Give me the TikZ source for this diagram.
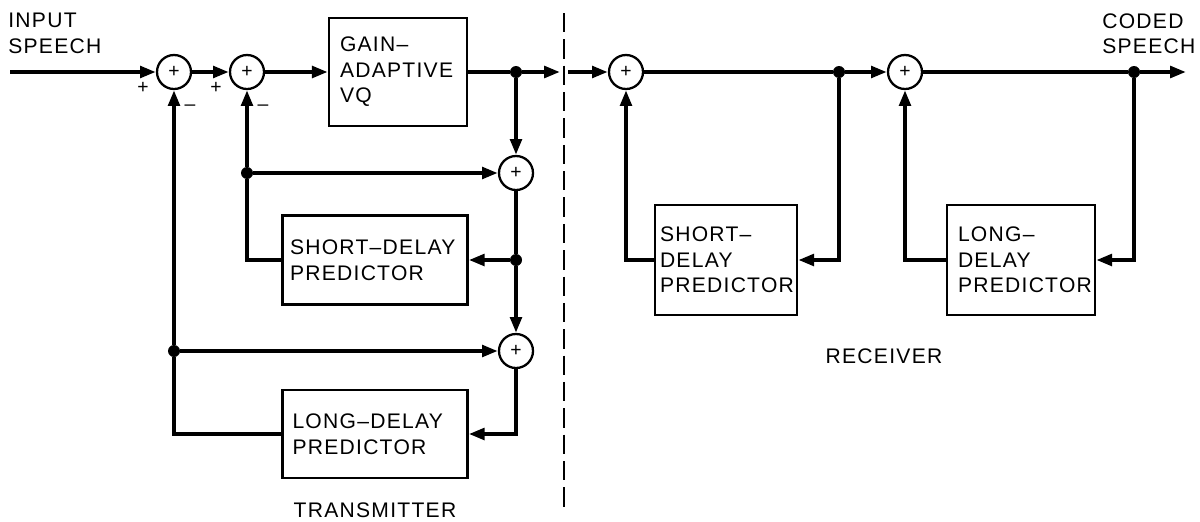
\documentclass[tikz,border=0pt]{standalone}
\usepackage{fontspec}
\setmainfont{Liberation Sans}[LetterSpace=6]
\usetikzlibrary{arrows.meta, calc}

\begin{document}
\begin{tikzpicture}[x=0.02cm, y=-0.02cm,
  every node/.style={font=\fontsize{12}{14.5}\selectfont},
  sum/.style={draw, circle, line width=1.3pt, minimum size=0.68cm, inner sep=0pt,
              font=\fontsize{11}{12}\selectfont},
  blk/.style={draw, line width=1.4pt, align=left, inner xsep=0.2cm},
  dot/.style={circle, fill, inner sep=0pt, minimum size=0.24cm},
  sig/.style={line width=2.2pt},
  arr/.style={sig, -{Triangle[length=9pt, width=6.5pt]}},
  sgn/.style={font=\fontsize{11}{12}\selectfont},
  divider/.style={line width=1.4pt, dash pattern=on 11pt off 4pt}
]
  \useasboundingbox (0,0) rectangle (1200,521);
  % transmitter
  \coordinate (inp) at (10,72);
  \node[sum] (s1) at (174,72) {+};
  \node[sum] (s2) at (247,72) {+};
  \node[blk, text width=2.32cm, minimum height=2.16cm, inner xsep=0.22cm] (vq) at (398,72) {GAIN–\\ADAPTIVE\\VQ};
  \node[dot] (jq) at (516,72) {};
  \coordinate (cutl) at (560,72);
  \node[sum] (s3) at (516,173) {+};
  \node[dot] (js) at (247,173) {};
  \node[dot] (jp) at (516,260) {};
  \node[sum] (s4) at (516,351) {+};
  \node[dot] (jl) at (174,351) {};
  \node[blk, text width=3.4cm, minimum height=1.78cm, inner xsep=0.15cm] (sdp) at (375,260) {SHORT–DELAY\\PREDICTOR};
  \node[blk, text width=3.3cm, minimum height=1.76cm, inner xsep=0.2cm] (ldp) at (375,434) {LONG–DELAY\\PREDICTOR};
  \node[sgn] (p1) at (143,88) {+};
  \node[sgn] (p2) at (216,88) {+};
  \node[sgn] (m1) at (190,108) {–};
  \node[sgn] (m2) at (263,108) {–};
  \node[align=left, anchor=north west, inner sep=0pt] (inlbl) at (8,13) {INPUT\\SPEECH};
  \node (txlbl) at (375,510) {TRANSMITTER};

  \draw[arr] (inp) -- (s1);
  \draw[arr] (s1) -- (s2);
  \draw[arr] (s2) -- (vq);
  \draw[sig] (vq) -- (jq);
  \draw[arr] (jq) -- (cutl);
  \draw[arr] (jq) -- (s3);
  \draw[arr] (js) -- (s3);
  \draw[arr] (js) -- (s2);
  \draw[sig] (sdp.west) -| (js);
  \draw[sig] (s3) -- (jp);
  \draw[arr] (jp) -- (sdp.east);
  \draw[arr] (jp) -- (s4);
  \draw[arr] (jl) -- (s4);
  \draw[arr] (jl) -- (s1);
  \draw[sig] (ldp.west) -| (jl);
  \draw[arr] (s4) |- (ldp.east);

  % channel
  \draw[divider] (564,13) -- (564,512);

  % receiver
  \coordinate (cutr) at (568,72);
  \node[sum] (r1) at (626,72) {+};
  \node[dot] (jr1) at (839,72) {};
  \node[sum] (r2) at (905,72) {+};
  \node[dot] (jr2) at (1134,72) {};
  \coordinate (outp) at (1186,72);
  \node[blk, text width=2.64cm, minimum height=2.2cm, inner xsep=0.1cm] (rsdp) at (726,260) {SHORT–\\DELAY\\PREDICTOR};
  \node[blk, text width=2.52cm, minimum height=2.2cm, inner xsep=0.22cm] (rldp) at (1021,260) {LONG–\\DELAY\\PREDICTOR};
  \node[align=left, anchor=north west, inner sep=0pt] (outlbl) at (1102,13) {CODED\\SPEECH};
  \node (rxlbl) at (884,356) {RECEIVER};

  \draw[arr] (cutr) -- (r1);
  \draw[sig] (r1) -- (jr1);
  \draw[arr] (jr1) -- (r2);
  \draw[arr] (jr1) |- (rsdp.east);
  \draw[arr] (rsdp.west) -| (r1);
  \draw[sig] (r2) -- (jr2);
  \draw[arr] (jr2) -- (outp);
  \draw[arr] (jr2) |- (rldp.east);
  \draw[arr] (rldp.west) -| (r2);
\end{tikzpicture}
\end{document}
